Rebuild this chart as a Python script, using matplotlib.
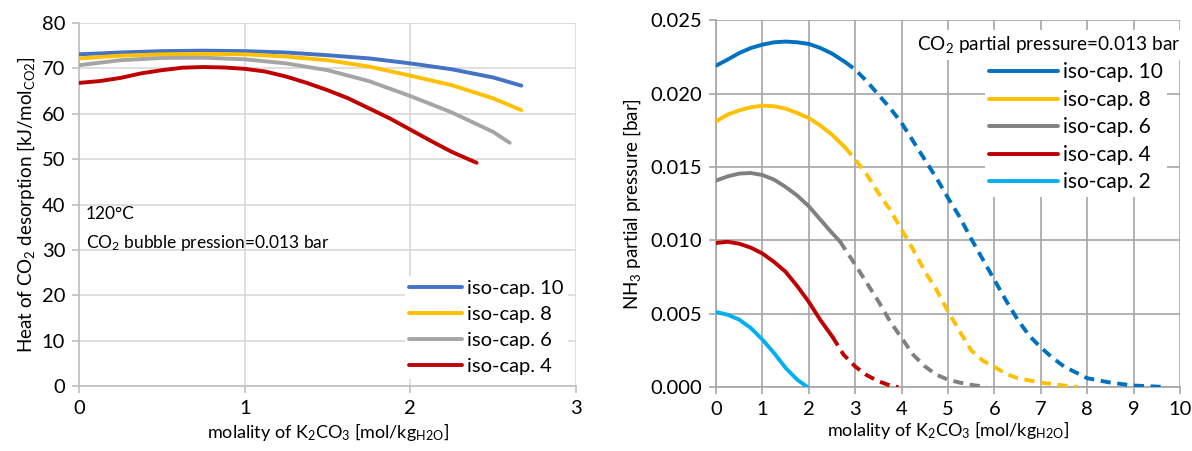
import matplotlib
matplotlib.use("Agg")
import matplotlib.pyplot as plt
from matplotlib.ticker import FormatStrFormatter

plt.rcParams["font.family"] = ["Lato", "DejaVu Sans"]
plt.rcParams["mathtext.fontset"] = "custom"
plt.rcParams["mathtext.rm"] = "Lato"
plt.rcParams["mathtext.it"] = "Lato"
plt.rcParams["mathtext.default"] = "regular"

# ---- left panel: heat of CO2 desorption ----
heat_labels = ["iso-cap. 10", "iso-cap. 8", "iso-cap. 6", "iso-cap. 4"]
heat_colors = ["#4472C4", "#FFC000", "#A5A5A5", "#C00000"]
heat_x10 = [0, 0.25, 0.5, 0.75, 1, 1.25, 1.5, 1.75, 2, 2.25, 2.5, 2.67]
heat_y10 = [73.1, 73.5, 73.8, 73.9, 73.8, 73.5, 72.9, 72.2, 71.1, 69.8, 68.0, 66.2]
heat_x8 = [0, 0.25, 0.5, 0.75, 1, 1.25, 1.5, 1.75, 2, 2.25, 2.5, 2.67]
heat_y8 = [72.2, 72.8, 73.1, 73.2, 73.1, 72.6, 71.8, 70.4, 68.4, 66.3, 63.4, 60.8]
heat_x6 = [0, 0.25, 0.5, 0.75, 1, 1.25, 1.5, 1.75, 2, 2.25, 2.5, 2.60]
heat_y6 = [70.7, 71.8, 72.3, 72.35, 72.0, 71.1, 69.6, 67.2, 63.9, 60.3, 56.0, 53.6]
heat_x4 = [0, 0.125, 0.25, 0.375, 0.5, 0.625, 0.75, 0.875, 1, 1.125, 1.25, 1.375, 1.5,
           1.625, 1.75, 1.875, 2, 2.125, 2.25, 2.40]
heat_y4 = [66.8, 67.2, 67.9, 68.9, 69.6, 70.15, 70.3, 70.2, 69.9, 69.3, 68.2, 66.8, 65.2,
           63.4, 61.2, 59.0, 56.5, 54.0, 51.6, 49.2]

# ---- right panel: NH3 partial pressure (solid up to split, dashed after) ----
nh3_labels = ["iso-cap. 10", "iso-cap. 8", "iso-cap. 6", "iso-cap. 4", "iso-cap. 2"]
nh3_colors = ["#0070C0", "#FFC000", "#808080", "#C00000", "#00B0F0"]
nh3_x10 = [0, 0.25, 0.5, 0.75, 1, 1.25, 1.5, 1.75, 2, 2.25, 2.5, 2.78, 3, 3.25, 3.5, 3.75,
           4, 4.25, 4.5, 4.75, 5, 5.25, 5.5, 5.75, 6, 6.25, 6.5, 6.75, 7, 7.25, 7.5, 8, 8.5,
           9, 9.7]
nh3_y10 = [0.02191, 0.02232, 0.02277, 0.02311, 0.02334, 0.0235, 0.02355, 0.0235, 0.02339,
           0.02311, 0.02273, 0.02216, 0.02164, 0.02084, 0.01993, 0.01902, 0.0180, 0.01675,
           0.0155, 0.01425, 0.01289, 0.0116, 0.0101, 0.0087, 0.0073, 0.0059, 0.0046, 0.0035,
           0.0027, 0.0020, 0.0014, 0.0006, 0.0003, 0.0001, 0.0]
nh3_x8 = [0, 0.25, 0.5, 0.75, 1, 1.25, 1.5, 1.75, 2, 2.25, 2.5, 2.78, 3, 3.25, 3.5, 3.75, 4,
          4.25, 4.5, 4.75, 5, 5.25, 5.5, 5.75, 6, 6.25, 6.5, 7, 7.5, 7.8]
nh3_y8 = [0.01811, 0.01857, 0.01886, 0.01907, 0.01918, 0.01914, 0.01898, 0.01868, 0.01834,
          0.01782, 0.0172, 0.01634, 0.0155, 0.01448, 0.01323, 0.01209, 0.01073, 0.00936,
          0.00789, 0.00664, 0.00515, 0.0038, 0.0025, 0.0018, 0.00137, 0.0009, 0.0006,
          0.0003, 0.0001, 0.0]
nh3_x6 = [0, 0.25, 0.5, 0.75, 1, 1.25, 1.5, 1.75, 2, 2.25, 2.5, 2.67, 3, 3.25, 3.5, 3.75, 4,
          4.25, 4.5, 4.75, 5, 5.25, 5.5, 5.83]
nh3_y6 = [0.01407, 0.01436, 0.01455, 0.01459, 0.01445, 0.01414, 0.01364, 0.01305, 0.01232,
          0.01141, 0.0105, 0.00993, 0.00834, 0.00709, 0.00584, 0.00448, 0.00334, 0.0022,
          0.00141, 0.00084, 0.0005, 0.0003, 0.00015, 0.0]
nh3_x4 = [0, 0.25, 0.5, 0.75, 1, 1.25, 1.5, 1.75, 2, 2.25, 2.51, 2.75, 3, 3.25, 3.5, 3.75,
          3.93]
nh3_y4 = [0.00982, 0.00990, 0.00977, 0.0095, 0.0091, 0.00853, 0.00785, 0.00688, 0.0058,
          0.00456, 0.00342, 0.0022, 0.0014, 0.0008, 0.0004, 0.0001, 0.0]
nh3_x2 = [0, 0.25, 0.5, 0.75, 1, 1.25, 1.5, 1.75, 1.97]
nh3_y2 = [0.00511, 0.00493, 0.00459, 0.00402, 0.00323, 0.00232, 0.0013, 0.0005, 0.0]
nh3_split = [2.78, 2.78, 2.67, 2.51, 1.97]

GRID_L = "#D9D9D9"
GRID_R = "#A6A6A6"
LW = 2.8

fig = plt.figure(figsize=(11.92, 4.51), dpi=100)

# left
ax1 = fig.add_axes([0.0663, 0.1441, 0.4169, 0.8049])
for x, y, lab, c in zip([heat_x10, heat_x8, heat_x6, heat_x4], [heat_y10, heat_y8, heat_y6, heat_y4],
                        heat_labels, heat_colors):
    ax1.plot(x, y, color=c, lw=LW, label=lab, solid_capstyle="round", solid_joinstyle="round",
             zorder=3)
ax1.set_xlim(0, 3); ax1.set_ylim(0, 80)
ax1.set_xticks(range(4)); ax1.set_yticks(range(0, 81, 10))
ax1.grid(True, color=GRID_L, lw=1.2, zorder=0)
for s in ["top", "right"]:
    ax1.spines[s].set_visible(False)
for s in ["left", "bottom"]:
    ax1.spines[s].set_color("#BFBFBF"); ax1.spines[s].set_linewidth(1.2)
ax1.tick_params(length=5, color="#BFBFBF", width=1.2, labelsize=14.5, pad=5)
ax1.set_xlabel("molality of K$_2$CO$_3$ [mol/kg$_{H2O}$]", fontsize=13, labelpad=3)
ax1.set_ylabel("Heat of CO$_2$ desorption [kJ/mol$_{CO2}$]", fontsize=13.5, labelpad=3)
ax1.text(0.04, 38, "120°C", fontsize=12.5, va="center")
ax1.text(0.04, 31.5, "CO$_2$ bubble pression=0.013 bar", fontsize=12.5, va="center")
leg1 = ax1.legend(loc="upper left", bbox_to_anchor=(0.635, 0.33), frameon=True, fontsize=14.5,
                  handlelength=2.65, handletextpad=0.25, labelspacing=0.44, borderpad=0.2)
leg1.get_frame().set_facecolor("white"); leg1.get_frame().set_edgecolor("none")
leg1.get_frame().set_alpha(1); leg1.get_frame().set_boxstyle("square", pad=0)

# right
ax2 = fig.add_axes([0.6007, 0.1419, 0.3892, 0.8131])
for x, y, sp, lab, c in zip([nh3_x10, nh3_x8, nh3_x6, nh3_x4, nh3_x2],
                            [nh3_y10, nh3_y8, nh3_y6, nh3_y4, nh3_y2],
                            nh3_split, nh3_labels, nh3_colors):
    xs = [a for a in x if a <= sp]; ys = y[:len(xs)]
    xd = [a for a in x if a >= sp]; yd = y[len(x) - len(xd):]
    ax2.plot(xs, ys, color=c, lw=LW, label=lab, solid_capstyle="round", solid_joinstyle="round",
             zorder=3)
    if len(xd) > 1:
        ax2.plot(xd, yd, color=c, lw=LW, ls=(0, (2.6, 1.7)), zorder=3)
ax2.set_xlim(0, 10); ax2.set_ylim(0, 0.025)
ax2.set_xticks(range(11)); ax2.set_yticks([0, 0.005, 0.010, 0.015, 0.020, 0.025])
ax2.yaxis.set_major_formatter(FormatStrFormatter("%.3f"))
ax2.grid(True, color=GRID_R, lw=1.2, zorder=0)
for s in ["top", "right"]:
    ax2.spines[s].set_visible(False)
for s in ["left", "bottom"]:
    ax2.spines[s].set_color("#A6A6A6"); ax2.spines[s].set_linewidth(1.2)
ax2.tick_params(length=5, color="#A6A6A6", width=1.2, labelsize=14.5, pad=5)
ax2.set_xlabel("molality of K$_2$CO$_3$ [mol/kg$_{H2O}$]", fontsize=13, labelpad=1)
ax2.set_ylabel("NH$_3$ partial pressure [bar]", fontsize=13.5, labelpad=5)
ax2.text(1.0, 0.933, "CO$_2$ partial pressure=0.013 bar", transform=ax2.transAxes,
         fontsize=13.7, ha="right", va="center", zorder=6,
         bbox=dict(facecolor="white", edgecolor="none", pad=3))
leg2 = ax2.legend(loc="upper left", bbox_to_anchor=(0.558, 0.925), frameon=True, fontsize=15,
                  handlelength=3.3, handletextpad=0.25, labelspacing=0.36, borderpad=0.2)
leg2.set_zorder(5)
leg2.get_frame().set_facecolor("white"); leg2.get_frame().set_edgecolor("none")
leg2.get_frame().set_alpha(1); leg2.get_frame().set_boxstyle("square", pad=0)

fig.savefig("out.png", dpi=100)
